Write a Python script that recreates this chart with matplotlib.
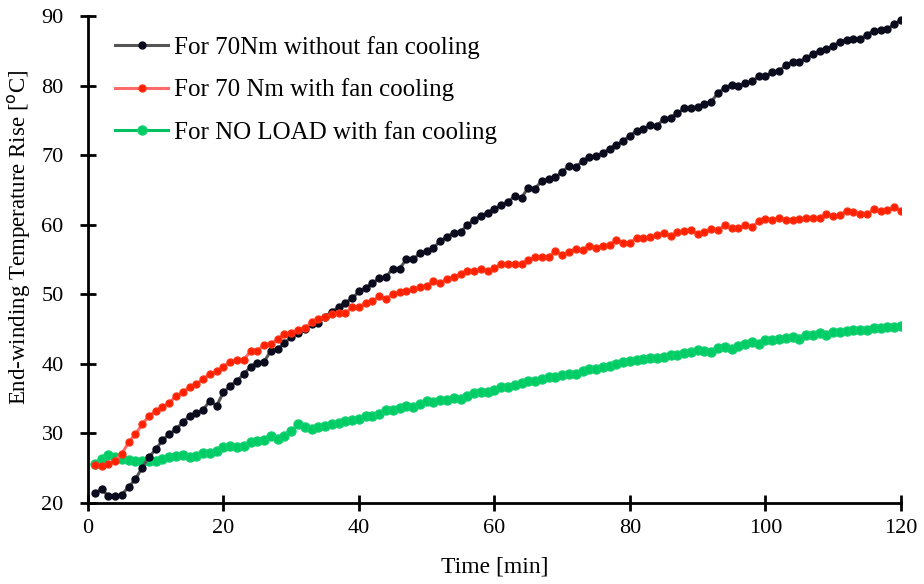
import matplotlib
matplotlib.use("Agg")
import matplotlib.pyplot as plt
import numpy as np

plt.rcParams["font.family"] = ["Liberation Serif", "DejaVu Serif"]

# Time [min]
time_min = list(range(1, 121))

# For 70Nm without fan cooling
no_fan_70nm = [
    21.4, 22.0, 21.0, 21.0, 21.2, 22.3, 23.4, 25.1, 26.6, 27.7,
    29.0, 29.9, 30.6, 31.6, 32.5, 32.9, 33.4, 34.7, 34.0, 35.9,
    36.8, 37.6, 38.5, 39.6, 40.1, 40.3, 41.9, 42.1, 43.0, 43.8,
    44.5, 45.0, 45.7, 45.9, 46.8, 47.5, 48.1, 48.8, 49.4, 50.4,
    50.9, 51.6, 52.3, 52.5, 53.7, 53.7, 55.0, 55.0, 55.9, 56.2,
    56.7, 57.6, 58.3, 58.8, 59.0, 59.9, 60.7, 61.3, 61.7, 62.3,
    62.8, 63.3, 64.1, 63.9, 65.3, 65.2, 66.3, 66.6, 66.8, 67.6,
    68.4, 68.3, 69.1, 69.7, 69.8, 70.3, 70.9, 71.5, 72.0, 72.8,
    73.5, 73.8, 74.3, 74.2, 75.2, 75.4, 76.0, 76.7, 76.7, 76.9,
    77.3, 77.7, 78.9, 79.7, 80.1, 79.9, 80.3, 80.6, 81.3, 81.3,
    81.9, 82.1, 82.9, 83.4, 83.4, 84.0, 84.5, 85.0, 85.2, 85.7,
    86.3, 86.6, 86.7, 86.7, 87.3, 87.9, 88.0, 88.1, 88.8, 89.4,
]

# For 70 Nm with fan cooling
fan_70nm = [
    25.5, 25.3, 25.6, 26.1, 27.1, 28.7, 29.9, 31.3, 32.5, 33.2,
    33.8, 34.4, 35.4, 35.9, 36.7, 37.1, 37.8, 38.6, 38.9, 39.6,
    40.3, 40.5, 40.6, 41.8, 41.9, 42.7, 42.9, 43.5, 44.3, 44.4,
    44.9, 45.1, 46.0, 46.4, 46.8, 47.2, 47.3, 47.3, 48.1, 48.1,
    48.8, 49.0, 49.7, 49.3, 50.1, 50.3, 50.4, 50.7, 51.0, 51.2,
    51.9, 51.6, 52.2, 52.5, 52.9, 53.3, 53.3, 53.7, 53.3, 53.8,
    54.3, 54.3, 54.4, 54.4, 54.9, 55.3, 55.3, 55.4, 56.2, 55.7,
    56.1, 56.5, 56.4, 56.9, 56.7, 57.0, 57.1, 57.8, 57.4, 57.4,
    58.1, 58.1, 58.2, 58.5, 58.8, 58.4, 58.9, 59.1, 59.2, 58.7,
    58.9, 59.4, 59.2, 59.9, 59.5, 59.5, 59.9, 59.6, 60.5, 60.8,
    60.7, 60.9, 60.7, 60.7, 60.8, 61.0, 61.0, 60.9, 61.6, 61.2,
    61.4, 62.0, 61.8, 61.5, 61.5, 62.2, 61.9, 62.1, 62.5, 62.0,
]

# For NO LOAD with fan cooling
no_load_fan = [
    25.6, 26.3, 26.9, 26.6, 26.3, 26.2, 26.1, 26.0, 26.1, 26.1,
    26.3, 26.6, 26.8, 26.9, 26.6, 26.8, 27.2, 27.2, 27.5, 28.0,
    28.2, 28.1, 28.2, 28.7, 28.9, 29.1, 29.7, 29.2, 29.7, 30.3,
    31.3, 30.9, 30.7, 30.9, 31.0, 31.3, 31.5, 31.8, 31.9, 32.1,
    32.5, 32.5, 32.8, 33.3, 33.4, 33.7, 34.0, 33.8, 34.2, 34.6,
    34.5, 34.8, 34.8, 35.1, 35.0, 35.4, 35.8, 36.0, 36.0, 36.3,
    36.7, 36.6, 37.0, 37.2, 37.5, 37.6, 37.8, 38.1, 38.1, 38.4,
    38.6, 38.6, 38.9, 39.2, 39.3, 39.5, 39.7, 40.0, 40.2, 40.4,
    40.5, 40.7, 40.8, 40.9, 41.0, 41.2, 41.3, 41.5, 41.7, 42.0,
    41.9, 41.7, 42.3, 42.4, 42.2, 42.5, 42.8, 43.2, 42.9, 43.4,
    43.4, 43.6, 43.7, 43.8, 43.6, 44.1, 44.2, 44.4, 44.1, 44.6,
    44.6, 44.7, 44.8, 44.9, 44.9, 45.1, 45.1, 45.3, 45.3, 45.4,
]

labels = [
    "For 70Nm without fan cooling",
    "For 70 Nm with fan cooling",
    "For NO LOAD with fan cooling",
]

fig = plt.figure(figsize=(9.24, 5.84), dpi=100)
ax = fig.add_axes([0.0952, 0.1387, 0.8798, 0.834])

ax.plot(time_min, no_fan_70nm, color="#555555", lw=2.2, marker="o", ms=5,
        mfc="#0b0b1e", mec="#0b0b1e", label=labels[0], zorder=3)
ax.plot(time_min, fan_70nm, color="#ff6a6a", lw=2.2, marker="o", ms=5,
        mfc="#ff2000", mec="#ff3010", label=labels[1], zorder=3)
ax.plot(time_min, no_load_fan, color="#00c060", lw=2.2, marker="o", ms=6.5,
        mfc="#00cc66", mec="#10d070", mew=1.0, label=labels[2], zorder=2)

ax.set_xlim(0, 120)
ax.set_ylim(20, 90)
ax.set_xticks(np.arange(0, 121, 20))
ax.set_yticks(np.arange(20, 91, 10))

for side in ("top", "right"):
    ax.spines[side].set_visible(False)
for side in ("left", "bottom"):
    ax.spines[side].set_linewidth(2)
ax.tick_params(direction="inout", length=11, width=2, labelsize=16)
ax.tick_params(axis="x", pad=6)
ax.tick_params(axis="y", pad=12)

ax.set_xlabel("Time [min]", fontsize=17, labelpad=13)
ax.set_ylabel("End-winding Temperature Rise [$^{\\mathrm{o}}$C]", fontsize=16.5)
ax.yaxis.set_label_coords(-0.068, 0.546)

ax.legend(loc="upper left", bbox_to_anchor=(0.006, 1.005), frameon=False,
          fontsize=18, handlelength=2.1, handletextpad=0.25, labelspacing=0.78)

fig.savefig("out.png", dpi=100)
